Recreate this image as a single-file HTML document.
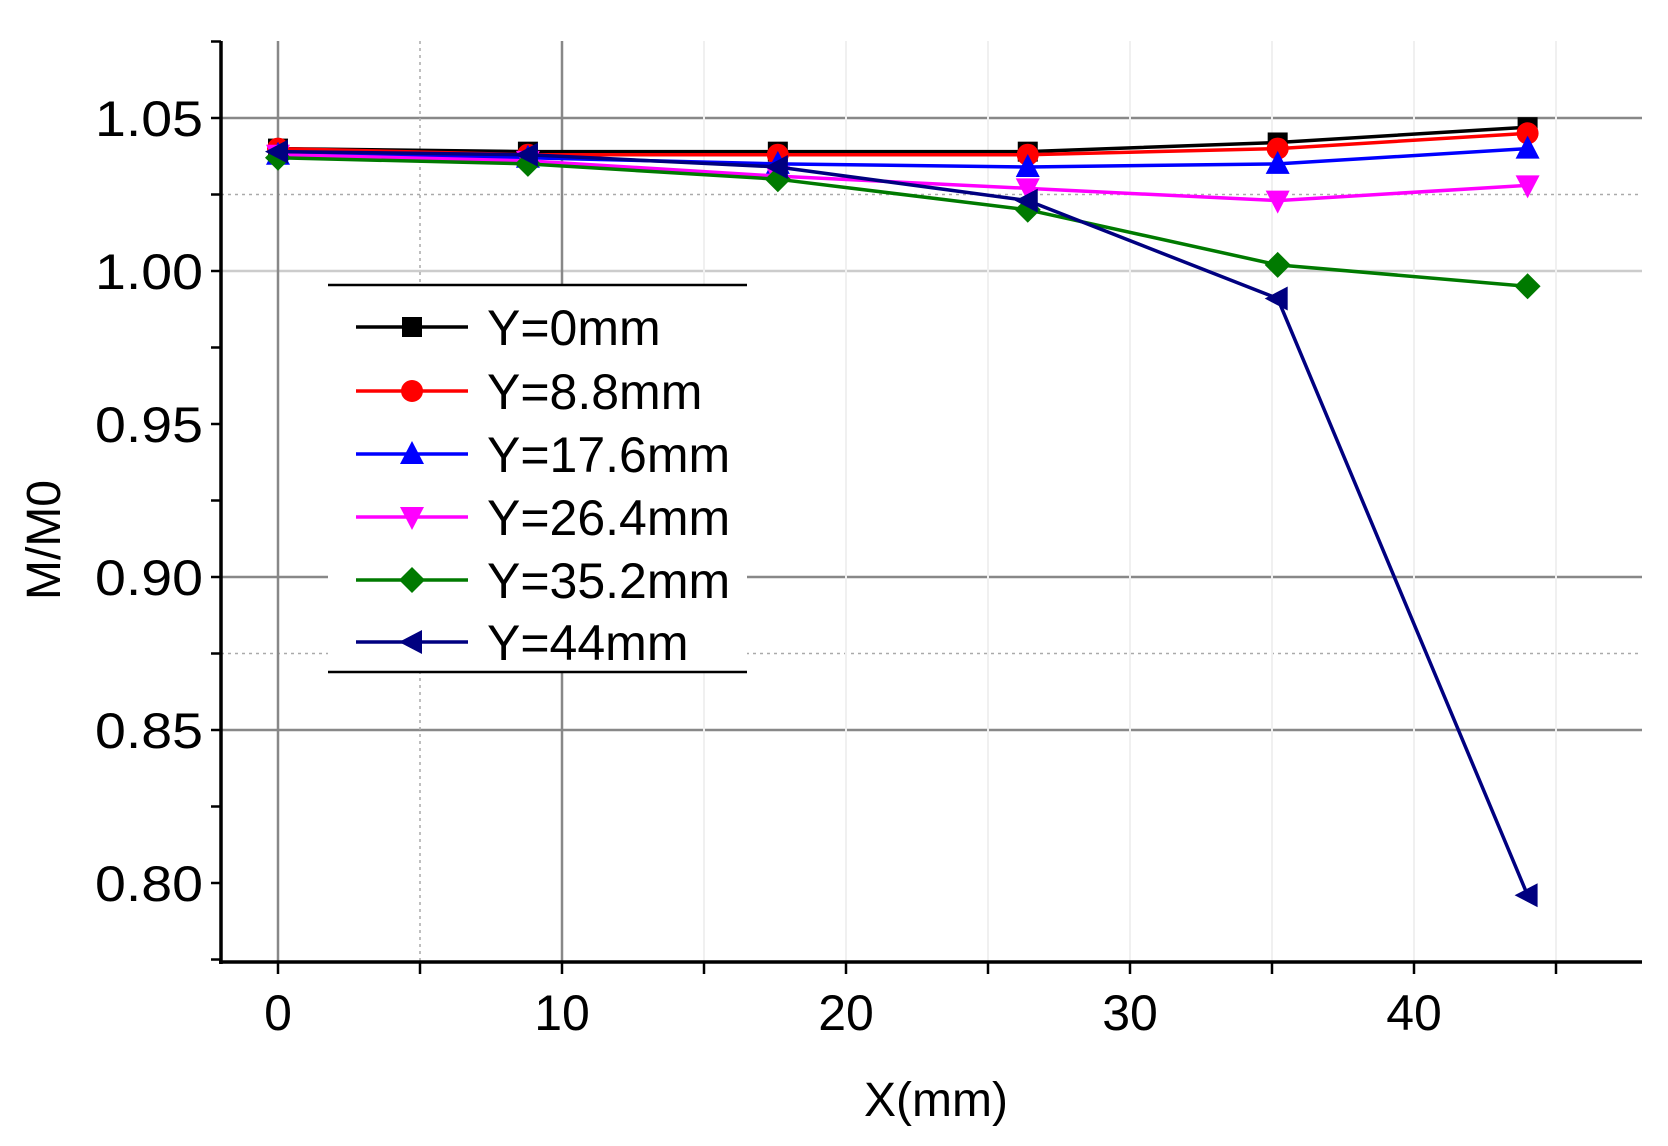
<!DOCTYPE html>
<html><head><meta charset="utf-8"><style>
html,body{margin:0;padding:0;background:#fff;}
svg{display:block;font-family:"Liberation Sans",Arial,sans-serif;}
</style></head><body>
<svg id="chart" width="1668" height="1146" viewBox="0 0 1668 1146" xmlns="http://www.w3.org/2000/svg">
<g id="grid"></g>
<g id="axes"></g>
<g id="series"></g>
<g id="legend"></g>
<text x="936" y="1116" font-size="48" text-anchor="middle" fill="#000">X(mm)</text>
<text x="60" y="540" font-size="48" text-anchor="middle" fill="#000" transform="rotate(-90 60 540)">M/M0</text>
</svg>
<script>
const xValues = [0, 8.8, 17.6, 26.4, 35.2, 44];
const seriesNames = ["Y=0mm","Y=8.8mm","Y=17.6mm","Y=26.4mm","Y=35.2mm","Y=44mm"];
const sY0 = [1.040,1.039,1.039,1.039,1.042,1.047];
const sY88 = [1.040,1.038,1.038,1.038,1.040,1.045];
const sY176 = [1.038,1.037,1.035,1.034,1.035,1.040];
const sY264 = [1.038,1.036,1.031,1.027,1.023,1.028];
const sY352 = [1.037,1.035,1.030,1.020,1.002,0.995];
const sY44 = [1.039,1.038,1.034,1.023,0.991,0.796];
const yTicks = [0.80,0.85,0.90,0.95,1.00,1.05];
const xTicks = [0,10,20,30,40];

const NS="http://www.w3.org/2000/svg";
const X0=221, X1=1642, YB=962, YT=41;
function sx(v){return 278 + v*28.4;}
function sy(v){return 271 - (v-1.0)*3060;}
function mk(tag,attrs,parent){const e=document.createElementNS(NS,tag);for(const k in attrs)e.setAttribute(k,attrs[k]);parent.appendChild(e);return e;}
const grid=document.getElementById('grid'), axes=document.getElementById('axes'), ser=document.getElementById('series'), leg=document.getElementById('legend');

// horizontal gridlines (only those visible in reference)
const hGrid=[[1.05,'#888',2.5,null],[1.025,'#aaa',1.5,'3,4'],[1.00,'#ccc',2.5,null],[0.90,'#888',2.5,null],[0.875,'#aaa',1.5,'3,4'],[0.85,'#888',2.5,null]];
hGrid.forEach(h=>{
  const st={x1:X0,x2:X1,y1:sy(h[0]),y2:sy(h[0]),stroke:h[1],'stroke-width':h[2]};
  if(h[3]) st['stroke-dasharray']=h[3];
  const l=mk('line',st,grid);
  
  
});
// vertical gridlines
for(let v=0; v<=45; v+=5){
  const x=sx(v);
  let st;
  if(v===0||v===10) st={stroke:'#888','stroke-width':2.5};
  else if(v===5) st={stroke:'#aaa','stroke-width':1.5,'stroke-dasharray':'3,4'};
  else st={stroke:'#f0f0f0','stroke-width':2};
  Object.assign(st,{x1:x,x2:x,y1:YT,y2:YB});
  const l=mk('line',st,grid);
  
  
}
// axes
const ya=mk('line',{x1:X0,x2:X0,y1:YT,y2:YB+2,stroke:'#000','stroke-width':3.5},axes);


const xa=mk('line',{x1:X0-2,x2:X1,y1:YB,y2:YB,stroke:'#000','stroke-width':3.5},axes);


for(let v=0.775; v<=1.0751; v+=0.025){
  const y=sy(Math.round(v*1000)/1000);
  const t=mk('line',{x1:X0-10,x2:X0,y1:y,y2:y,stroke:'#000','stroke-width':2.5},axes);
  
  
}
yTicks.forEach(v=>{
  const t=mk('text',{x:203,y:sy(v)+18,'font-size':50,'text-anchor':'end',fill:'#000',textLength:108,lengthAdjust:'spacingAndGlyphs'},axes);
  t.textContent=v.toFixed(2);
  
  
});
for(let v=0; v<=45; v+=5){
  const t=mk('line',{x1:sx(v),x2:sx(v),y1:YB,y2:YB+12,stroke:'#000','stroke-width':2.5},axes);
  
  
}
xTicks.forEach(v=>{
  const t=mk('text',{x:sx(v),y:1030,'font-size':50,'text-anchor':'middle',fill:'#000'},axes);
  t.textContent=v;
  
  
});

const colors=['#000000','#ff0000','#0000ff','#ff00ff','#007a00','#000080'];
const shapes=['square','circle','up','down','diamond','left'];
const allSeries=[sY0,sY88,sY176,sY264,sY352,sY44];
function marker(shape,x,y,c,parent){
  const s=11; let e;
  if(shape==='square') e=mk('rect',{x:x-s+1,y:y-s+1,width:2*s-2,height:2*s-2,fill:c},parent);
  else if(shape==='circle') e=mk('circle',{cx:x,cy:y,r:s,fill:c},parent);
  else if(shape==='up') e=mk('polygon',{points:`${x},${y-s-2} ${x+s+1},${y+s-1} ${x-s-1},${y+s-1}`,fill:c},parent);
  else if(shape==='down') e=mk('polygon',{points:`${x},${y+s+2} ${x+s+1},${y-s+1} ${x-s-1},${y-s+1}`,fill:c},parent);
  else if(shape==='diamond') e=mk('polygon',{points:`${x},${y-s-2} ${x+s+2},${y} ${x},${y+s+2} ${x-s-2},${y}`,fill:c},parent);
  else e=mk('polygon',{points:`${x-s-2},${y} ${x+s-1},${y-s-1} ${x+s-1},${y+s+1}`,fill:c},parent);
  return e;
}
allSeries.forEach((arr,i)=>{
  const g=mk('g',{},ser);
  
  
  const pl=mk('polyline',{points:arr.map((v,j)=>sx(xValues[j])+','+sy(v)).join(' '),fill:'none',stroke:colors[i],'stroke-width':3.5},g);
  
  
  arr.forEach((v,j)=>{
    const m=marker(shapes[i],sx(xValues[j]),sy(v),colors[i],g);
    
    
  });
});
// legend
const lb=mk('rect',{x:328,y:285,width:419,height:387,fill:'#fff'},leg);


[285,672].forEach(y=>{
  const l=mk('line',{x1:328,x2:747,y1:y,y2:y,stroke:'#000','stroke-width':2.5},leg);
  
  
});
const ly=[327,391,454,517,580,642];
seriesNames.forEach((n,i)=>{
  const g=mk('g',{},leg);
  
  
  mk('line',{x1:356,x2:468,y1:ly[i],y2:ly[i],stroke:colors[i],'stroke-width':3.5},g);
  marker(shapes[i],412,ly[i],colors[i],g);
  const t=mk('text',{x:487,y:ly[i]+18,'font-size':50,fill:'#000'},g);
  t.textContent=n;
});
</script>
</body></html>
